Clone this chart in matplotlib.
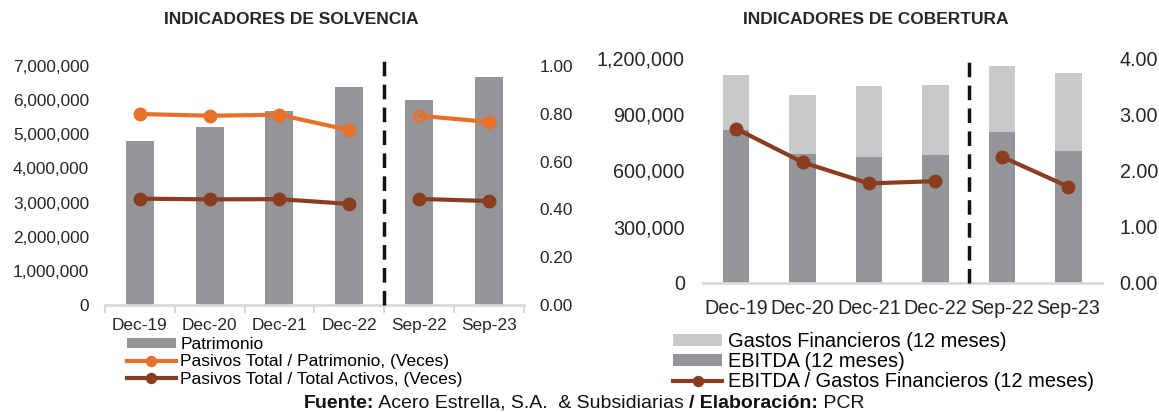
import numpy as np
import matplotlib
matplotlib.use("Agg")
import matplotlib.pyplot as plt
from matplotlib.ticker import FuncFormatter

plt.rcParams['font.family'] = ['Liberation Sans', 'DejaVu Sans']

periods = ['Dec-19', 'Dec-20', 'Dec-21', 'Dec-22', 'Sep-22', 'Sep-23']

# solvencia
patrimonio = [4800000, 5200000, 5680000, 6380000, 6000000, 6670000]
pasivos_patrimonio = [0.799, 0.792, 0.796, 0.732, 0.792, 0.766]
pasivos_activos = [0.445, 0.442, 0.443, 0.423, 0.444, 0.435]

# cobertura
ebitda = [816000, 688000, 672000, 681000, 806000, 706000]
gastos_fin = [297000, 316000, 381000, 375000, 354000, 415000]
ebitda_gastos = [2.745, 2.146, 1.77, 1.81, 2.246, 1.711]

GRAY = '#939598'
LIGHT = '#c8c9cb'
ORANGE = '#e9702a'
BROWN = '#8b3e1f'
AXIS = '#d9d9d9'
TXT = '#262626'

W, H = 1159, 412
fig = plt.figure(figsize=(W / 100, H / 100), dpi=100)

def box(x0, x1, ytop, ybot):
    return [x0 / W, 1 - ybot / H, (x1 - x0) / W, (ybot - ytop) / H]

x = np.arange(len(periods))
thousands = FuncFormatter(lambda v, p: f'{v:,.0f}')
two_dec = FuncFormatter(lambda v, p: f'{v:.2f}')
first, second = slice(0, 4), slice(4, 6)

# ---------------- left: solvencia
fs1 = 12.4
ax1 = fig.add_axes(box(105, 523.5, 66, 305))
ax1.bar(x, patrimonio, width=0.4, color=GRAY, label='Patrimonio', zorder=2)
ax1.set_ylim(0, 7000000)
ax1.set_yticks(np.arange(0, 7000001, 1000000))
ax1.yaxis.set_major_formatter(thousands)
ax1.set_xlim(-0.5, 5.5)
ax1.set_xticks(x)
ax1.set_xticklabels(periods)
ax1.set_xticks(np.arange(-0.5, 6, 1), minor=True)
ax1.tick_params(axis='x', which='major', length=0, pad=9.5, labelsize=fs1, colors=TXT)
ax1.tick_params(axis='x', which='minor', length=6, width=1.5, color=AXIS)
ax1.tick_params(axis='y', length=0, pad=11.5, labelsize=fs1, colors=TXT)
for s in ['top', 'right', 'left']:
    ax1.spines[s].set_visible(False)
ax1.spines['bottom'].set_color(AXIS)
ax1.spines['bottom'].set_linewidth(2)

ax1b = ax1.twinx()
l1, = ax1b.plot(x[first], pasivos_patrimonio[first], color=ORANGE, lw=3, marker='o', ms=9,
                label='Pasivos Total / Patrimonio, (Veces)')
ax1b.plot(x[second], pasivos_patrimonio[second], color=ORANGE, lw=3)
ax1b.plot(x[4], pasivos_patrimonio[4], 'o', ms=8, mfc='none', mec=ORANGE, mew=1.8)
ax1b.plot(x[5], pasivos_patrimonio[5], 'o', ms=9, color=ORANGE)
l2, = ax1b.plot(x[first], pasivos_activos[first], color=BROWN, lw=3, marker='o', ms=9,
                label='Pasivos Total / Total Activos, (Veces)')
ax1b.plot(x[second], pasivos_activos[second], color=BROWN, lw=3, marker='o', ms=9)
ax1b.set_ylim(0, 1.0)
ax1b.set_yticks(np.arange(0, 1.01, 0.2))
ax1b.yaxis.set_major_formatter(two_dec)
ax1b.tick_params(axis='y', length=0, pad=11.5, labelsize=fs1, colors=TXT)
for s in ax1b.spines.values():
    s.set_visible(False)
ax1b.axvline(3.5, ymin=0, ymax=1.05, color='#111111', lw=2.5, ls=(0, (4.2, 2.4)), clip_on=False)

h1, lab1 = ax1.get_legend_handles_labels()
fig.legend(h1 + [l1, l2], lab1 + [l1.get_label(), l2.get_label()],
           loc='upper left', bbox_to_anchor=(127 / W, 1 - 337 / H), frameon=False,
           borderpad=0, borderaxespad=0, handlelength=2.8, handleheight=0.55,
           handletextpad=0.28, labelspacing=0.14, fontsize=12.5, numpoints=1,
           markerscale=0.8)

# ---------------- right: cobertura
fs2 = 14.2
ax2 = fig.add_axes(box(703, 1101.5, 58.3, 282.7))
ax2.bar(x, ebitda, width=0.4, color=GRAY, label='EBITDA (12 meses)', zorder=2)
ax2.bar(x, gastos_fin, width=0.4, bottom=ebitda, color=LIGHT,
        label='Gastos Financieros (12 meses)', zorder=2)
ax2.set_ylim(0, 1200000)
ax2.set_yticks(np.arange(0, 1200001, 300000))
ax2.yaxis.set_major_formatter(thousands)
ax2.set_xlim(-0.5, 5.5)
ax2.set_xticks(x)
ax2.set_xticklabels(periods)
ax2.tick_params(axis='x', length=0, pad=11.5, labelsize=fs2, colors=TXT)
ax2.tick_params(axis='y', length=0, pad=13, labelsize=fs2, colors=TXT)
for s in ['top', 'right', 'left']:
    ax2.spines[s].set_visible(False)
ax2.spines['bottom'].set_color(AXIS)
ax2.spines['bottom'].set_linewidth(2)

ax2b = ax2.twinx()
l3, = ax2b.plot(x[first], ebitda_gastos[first], color=BROWN, lw=3, marker='o', ms=9,
                label='EBITDA / Gastos Financieros (12 meses)')
ax2b.plot(x[second], ebitda_gastos[second], color=BROWN, lw=3, marker='o', ms=9)
ax2b.set_ylim(0, 4.0)
ax2b.set_yticks(np.arange(0, 4.01, 1.0))
ax2b.yaxis.set_major_formatter(two_dec)
ax2b.tick_params(axis='y', length=0, pad=13, labelsize=fs2, colors=TXT)
for s in ax2b.spines.values():
    s.set_visible(False)
ax2b.axvline(3.5, ymin=0, ymax=1.0, color='#111111', lw=2.5, ls=(0, (4.2, 2.4)), clip_on=False)

h2, lab2 = ax2.get_legend_handles_labels()
fig.legend([h2[1], h2[0], l3], [lab2[1], lab2[0], l3.get_label()],
           loc='upper left', bbox_to_anchor=(673 / W, 1 - 332 / H), frameon=False,
           borderpad=0, borderaxespad=0, handlelength=2.45, handleheight=0.5,
           handletextpad=0.3, labelspacing=0.06, fontsize=14.4, numpoints=1,
           markerscale=0.8)

# titles
fig.text(291 / W, 1 - 20 / H, 'INDICADORES DE SOLVENCIA', ha='center', va='center',
         fontsize=12.5, fontweight='bold', color=TXT)
fig.text(876 / W, 1 - 20 / H, 'INDICADORES DE COBERTURA', ha='center', va='center',
         fontsize=12.5, fontweight='bold', color=TXT)

# source line, mixed bold
parts = [('Fuente:', 'bold'), (' Acero Estrella, S.A.  & Subsidiarias ', 'normal'),
         ('/ Elaboración:', 'bold'), (' PCR', 'normal')]
fig.canvas.draw()
renderer = fig.canvas.get_renderer()
texts = []
for s, w in parts:
    t = fig.text(0, 1 - 403.5 / H, s, ha='left', va='center', fontsize=14,
                 fontweight=w, color='#111111')
    texts.append(t)
widths = [t.get_window_extent(renderer).width for t in texts]
xpos = 584 - sum(widths) / 2
for t, wd in zip(texts, widths):
    t.set_x(xpos / W)
    xpos += wd

fig.savefig('out.png', dpi=100)
